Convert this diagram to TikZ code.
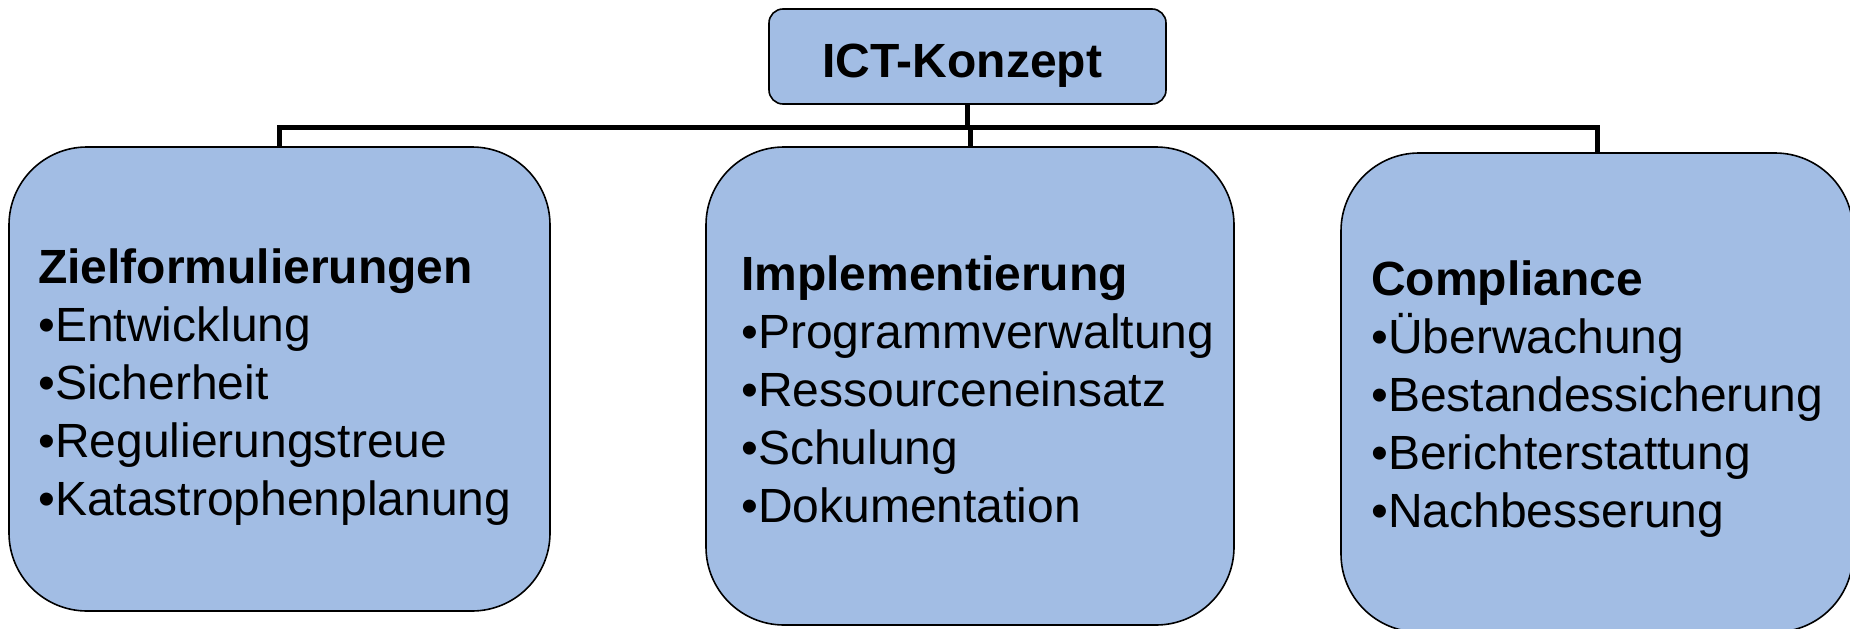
\documentclass[tikz,border=0pt]{standalone}
\usepackage{fontspec}
\setmainfont{Liberation Sans}
\definecolor{boxblue}{RGB}{162,189,228}
\begin{document}
\begin{tikzpicture}[x=1pt,y=-1pt,
  topbox/.style={draw=black,line width=1.6pt,fill=boxblue,rounded corners=14pt,minimum width=397pt,minimum height=95pt,inner sep=0pt},
  bigbox/.style={draw=black,line width=1.6pt,fill=boxblue,rounded corners=78pt,inner sep=0pt},
  conn/.style={draw=black,line width=5pt},
  boxtext/.style={anchor=north west,align=left,inner sep=0pt,font=\fontsize{48}{58}\selectfont}]
\useasboundingbox (0,0) rectangle (1850,629);
\clip (0,0) rectangle (1850,629);
\coordinate (bus) at (0,127);
% boxes
\node[topbox] (top) at (967.5,56.5) {};
\node[bigbox,minimum width=541pt,minimum height=464pt] (zbox) at (279.5,379) {};
\node[bigbox,minimum width=528pt,minimum height=478pt] (ibox) at (970,386) {};
\node[bigbox,minimum width=512pt,minimum height=479pt] (cbox) at (1597,392.5) {};
% connectors
\draw[conn] (top.south) -- (top.south |- bus);
\draw[conn] (zbox.north) -- (zbox.north |- bus) -- (cbox.north |- bus) -- (cbox.north);
\draw[conn] (ibox.north |- bus) -- (ibox.north);
% texts
\node[anchor=base,inner sep=0pt,font=\fontsize{48}{58}\selectfont\bfseries] (toptext) at (962,77) {ICT-Konzept};
\node[boxtext] (ztext) at (38,243) {\rule{0pt}{40pt}\textbf{Zielformulierungen}\\•Entwicklung\\•Sicherheit\\•Regulierungstreue\\•Katastrophenplanung};
\node[boxtext] (itext) at (741,250) {\rule{0pt}{40pt}\textbf{Implementierung}\\•Programmverwaltung\\•Ressourceneinsatz\\•Schulung\\•Dokumentation};
\node[boxtext] (ctext) at (1371,255) {\rule{0pt}{40pt}\textbf{Compliance}\\•Überwachung\\•Bestandessicherung\\•Berichterstattung\\•Nachbesserung};
\end{tikzpicture}
\end{document}
